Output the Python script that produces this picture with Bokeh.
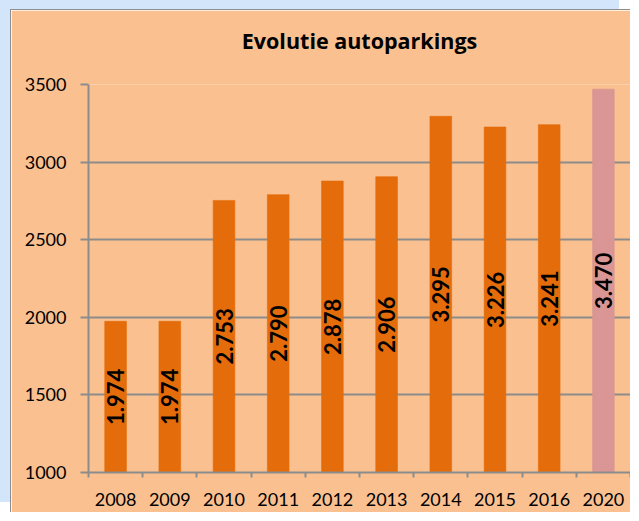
import numpy as np
from bokeh.plotting import figure
from bokeh.models import Range1d, FixedTicker, ColumnDataSource, LinearAxis
from bokeh.core.properties import value
from bokeh.embed import file_html
from bokeh.resources import INLINE

# ---- data ----
years = ["2008", "2009", "2010", "2011", "2012", "2013", "2014", "2015", "2016", "2020"]
parkings = [1974, 1974, 2753, 2790, 2878, 2906, 3295, 3226, 3241, 3470]
bar_colors = ["#E46C0A"] * 9 + ["#D99694"]
y_ticks = [1000, 1500, 2000, 2500, 3000, 3500]
y_min, y_max = 1000, 3500
title_text = "Evolutie autoparkings"

PEACH = "#FAC090"
GRID = "#8C8C8C"
FONT = "Lato"

xs = np.arange(len(years)) + 0.5
labels = [f"{v:,}".replace(",", ".") for v in parkings]
label_y = [(y_min + v) / 2 for v in parkings]

src = ColumnDataSource(dict(x=xs, top=parkings, color=bar_colors,
                            label=labels, ly=label_y))

p = figure(width=620, height=503, output_backend="svg", toolbar_location=None,
           x_range=Range1d(0, len(years)), y_range=Range1d(y_min, y_max),
           min_border_left=77, min_border_right=1, min_border_top=74,
           min_border_bottom=41)
p.styles = {"margin-left": "10px", "margin-top": "9px",
            "border-left": "1px solid #8E8E8E", "border-top": "1px solid #8E8E8E",
            "box-shadow": "-11px -10px 0 0 #D3E5FA"}

p.background_fill_color = PEACH
p.border_fill_color = PEACH
p.outline_line_color = None

yax = p.left[0]
xax = p.below[0]

# title, drawn as the label of a bare axis above the plot
tax = LinearAxis(axis_label=title_text, ticker=FixedTicker(ticks=[]))
tax.axis_line_color = None
tax.major_tick_line_color = None
tax.minor_tick_line_color = None
tax.major_label_text_font_size = "0px"
tax.major_label_standoff = 0
tax.major_tick_out = 0
tax.major_tick_in = 0
tax.axis_label_standoff = 30
tax.axis_label_text_font = "Open Sans"
tax.axis_label_text_font_size = "21.5px"
tax.axis_label_text_font_style = "bold"
tax.axis_label_text_color = "black"
p.add_layout(tax, "above")

# bars
p.vbar(x="x", top="top", bottom=0, width=0.4, source=src,
       fill_color="color", line_color="color", line_alpha=0.6)

# value labels, rotated
p.text(x="x", y="ly", text="label", source=src, angle=np.pi / 2,
       text_align="center", text_baseline="middle",
       text_font=value(FONT), text_font_style="bold",
       text_font_size="22px", text_color="black")

# y axis
yax.ticker = FixedTicker(ticks=y_ticks)
yax.axis_line_color = GRID
yax.axis_line_width = 2
yax.major_tick_line_color = GRID
yax.major_tick_line_width = 2
yax.major_tick_in = 0
yax.major_tick_out = 8
yax.minor_tick_line_color = None
yax.major_label_standoff = 14
yax.major_label_text_font = FONT
yax.major_label_text_font_size = "18px"
yax.major_label_text_color = "black"

# x axis: labels at centers, tick marks at boundaries
xax.ticker = FixedTicker(ticks=list(xs), minor_ticks=list(range(len(years) + 1)))
xax.major_label_overrides = {float(x): y for x, y in zip(xs, years)}
xax.axis_line_color = GRID
xax.axis_line_width = 2
xax.major_tick_line_color = None
xax.major_tick_in = 0
xax.major_tick_out = 0
xax.minor_tick_line_color = GRID
xax.minor_tick_line_width = 2
xax.minor_tick_in = 0
xax.minor_tick_out = 5
xax.major_label_standoff = 15
xax.major_label_text_font = FONT
xax.major_label_text_font_size = "18px"
xax.major_label_text_color = "black"

# grid
p.xgrid.grid_line_color = None
p.ygrid.ticker = FixedTicker(ticks=y_ticks)
p.ygrid.grid_line_color = GRID
p.ygrid.grid_line_width = 2

open("out.html", "w").write(file_html(p, INLINE))
